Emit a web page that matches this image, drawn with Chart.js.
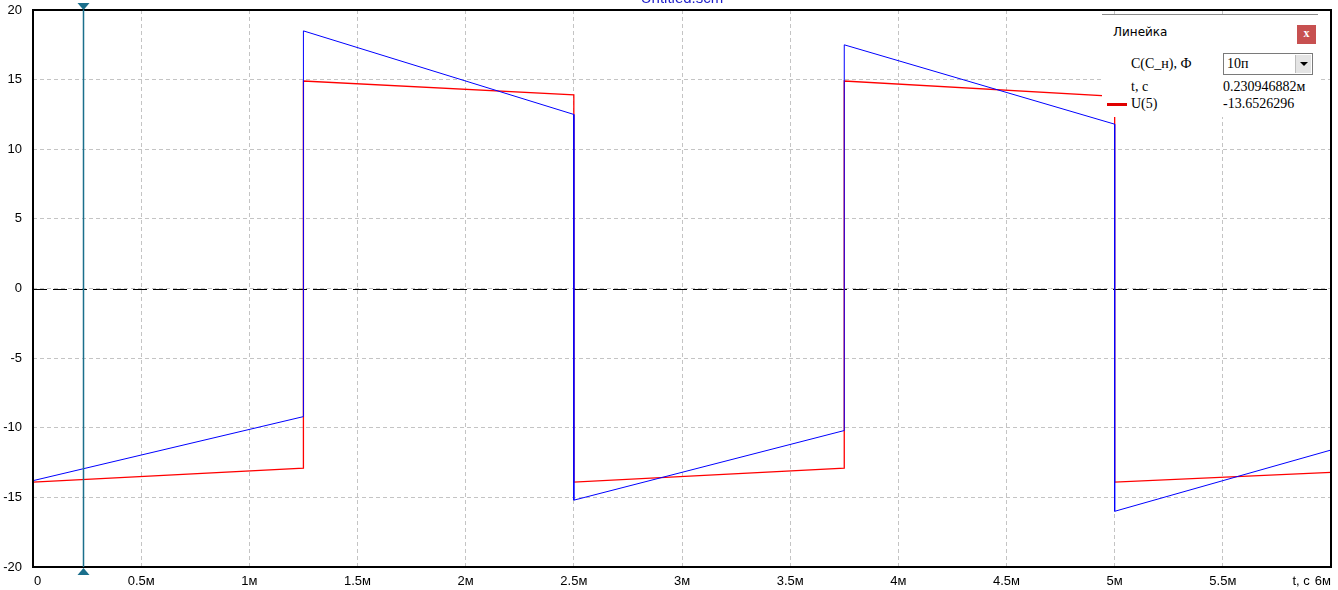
<!DOCTYPE html>
<html lang="ru">
<head>
    <meta charset="UTF-8">
    <title>Untitled.scm</title>
    <script src="https://cdn.jsdelivr.net/npm/chart.js"></script>
    <style>
        body { margin: 0; background: #fff; overflow: hidden; }
        .wrap { position: relative; width: 1338px; height: 590px; }
        #scopeChart { position: absolute; left: 0; top: 0; }
        .title {
            position: absolute; top: -11px; left: 0; width: 1364px; text-align: center;
            font: 15px "Liberation Sans", Arial, sans-serif; color: #1c1cc8;
        }
        .panel {
            position: absolute; left: 1102px; top: 14px; width: 216px; height: 102px;
            background: #fff; border-top: 1px solid #8a8a8a;
            font: 14px "Liberation Serif", "Times New Roman", serif; color: #000;
        }
        .panel div { position: absolute; white-space: nowrap; }
        .ptitle { left: 11px; top: 10px; font: 12px "DejaVu Sans", Tahoma, sans-serif; }
        .close {
            left: 195px; top: 10px; width: 19px; height: 19px; background: #c75050;
            color: #fff; font: bold 12px "Liberation Serif", serif; text-align: center; line-height: 17px;
        }
        .combo {
            left: 121px; top: 38px; width: 88px; height: 20px;
            border: 1px solid #7a7a7a; background: #fff;
        }
        .combo span { position: absolute; left: 3px; top: 2px; }
        .combo i {
            position: absolute; right: 1px; top: 1px; width: 15px; height: 18px;
            background: #e4e4e4; border-left: 1px solid #bcbcbc;
        }
        .combo i:after {
            content: ""; position: absolute; left: 4px; top: 7px;
            border-left: 4px solid transparent; border-right: 4px solid transparent; border-top: 4px solid #000;
        }
        .swatch { left: 5px; top: 88px; width: 20px; height: 3px; background: #e00000; }
    </style>
</head>
<body>
<div class="wrap">
    <canvas id="scopeChart" width="1338" height="590"></canvas>
    <div class="title">Untitled.scm</div>
    <div class="panel">
        <div class="ptitle">Линейка</div>
        <div class="close">x</div>
        <div style="left:29px;top:41px;">C(C_н), Ф</div>
        <div class="combo"><span>10п</span><i></i></div>
        <div style="left:29px;top:64px;">t, c</div>
        <div style="left:121px;top:64px;">0.230946882м</div>
        <div class="swatch"></div>
        <div style="left:29px;top:81px;">U(5)</div>
        <div style="left:121px;top:81px;">-13.6526296</div>
    </div>
</div>

<script>
    // время в мс
    const timeMs = [0, 0, 1.25, 1.25, 2.5, 2.5, 3.75, 3.75, 5, 5, 6];
    // синяя кривая
    const blueVals = [0, -13.8, -9.2, 18.5, 12.5, -15.2, -10.2, 17.5, 11.8, -16.0, -11.6];
    // красная кривая U(5)
    const redVals = [0.3, -13.9, -12.9, 14.9, 13.9, -13.9, -12.9, 14.9, 13.8, -13.9, -13.2];

    const xTickValues = [0, 0.5, 1, 1.5, 2, 2.5, 3, 3.5, 4, 4.5, 5, 5.5, 6];
    const xTickLabels = ['0', '0.5м', '1м', '1.5м', '2м', '2.5м', '3м', '3.5м', '4м', '4.5м', '5м', '5.5м', '6м'];
    const xAxisTitle = 't, c';
    const cursorT = 0.230946882;

    const toPoints = vals => vals.map((v, i) => ({ x: timeMs[i], y: v }));

    const overlay = {
        id: 'overlay',
        beforeDatasetsDraw(chart) {
            const { ctx, chartArea: a, scales: { y } } = chart;
            const y0 = y.getPixelForValue(0);
            ctx.save();
            ctx.strokeStyle = '#000';
            ctx.lineWidth = 1;
            ctx.setLineDash([14, 6]);
            ctx.beginPath();
            ctx.moveTo(a.left, Math.round(y0) + 0.5);
            ctx.lineTo(a.right, Math.round(y0) + 0.5);
            ctx.stroke();
            ctx.restore();
        },
        afterDraw(chart) {
            const { ctx, chartArea: a, scales: { x } } = chart;
            ctx.save();
            // рамка
            ctx.strokeStyle = '#000';
            ctx.lineWidth = 2;
            ctx.strokeRect(a.left, a.top, a.right - a.left, a.bottom - a.top);

            // курсор линейки
            const cx = Math.round(x.getPixelForValue(cursorT)) + 0.5;
            ctx.strokeStyle = '#1b6f8c';
            ctx.fillStyle = '#1b6f8c';
            ctx.lineWidth = 1.5;
            ctx.beginPath();
            ctx.moveTo(cx, a.top);
            ctx.lineTo(cx, a.bottom);
            ctx.stroke();
            ctx.beginPath();
            ctx.moveTo(cx - 6, a.top - 7);
            ctx.lineTo(cx + 6, a.top - 7);
            ctx.lineTo(cx, a.top);
            ctx.fill();
            ctx.beginPath();
            ctx.moveTo(cx - 6, a.bottom + 8);
            ctx.lineTo(cx + 6, a.bottom + 8);
            ctx.lineTo(cx, a.bottom + 1);
            ctx.fill();

            // подписи оси X
            ctx.fillStyle = '#000';
            ctx.font = '13px "Liberation Sans", Arial, sans-serif';
            ctx.textBaseline = 'middle';
            const ly = a.bottom + 14;
            xTickValues.forEach((v, i) => {
                const px = x.getPixelForValue(v);
                if (i === 0) {
                    ctx.textAlign = 'left';
                    ctx.fillText(xTickLabels[i], px + 1, ly);
                } else if (i === xTickValues.length - 1) {
                    ctx.textAlign = 'right';
                    ctx.fillText(xTickLabels[i], px, ly);
                    const w = ctx.measureText(xTickLabels[i]).width;
                    ctx.fillText(xAxisTitle, px - w - 5, ly);
                } else {
                    ctx.textAlign = 'center';
                    ctx.fillText(xTickLabels[i], px, ly);
                }
            });
            ctx.restore();
        }
    };

    const ctx = document.getElementById('scopeChart').getContext('2d');
    const scopeChart = new Chart(ctx, {
        type: 'line',
        data: {
            datasets: [
                {
                    label: 'U(4)',
                    data: toPoints(blueVals),
                    borderColor: '#0000ff',
                    borderWidth: 1,
                    pointRadius: 0,
                    tension: 0,
                    order: 0
                },
                {
                    label: 'U(5)',
                    data: toPoints(redVals),
                    borderColor: '#ff0000',
                    borderWidth: 1.3,
                    pointRadius: 0,
                    tension: 0,
                    order: 1
                }
            ]
        },
        options: {
            responsive: false,
            animation: false,
            events: [],
            layout: { padding: { top: 10, right: 7, left: 0, bottom: 0 } },
            plugins: { legend: { display: false }, tooltip: { enabled: false } },
            scales: {
                x: {
                    type: 'linear',
                    min: 0,
                    max: 6,
                    afterFit: s => { s.height = 23; s.paddingLeft = 0; s.paddingRight = 0; },
                    afterBuildTicks: s => { s.ticks = xTickValues.map(v => ({ value: v })); },
                    ticks: { display: false },
                    grid: { color: '#c4c4c4', lineWidth: 1, drawTicks: false },
                    border: { display: false, dash: [4, 3] }
                },
                y: {
                    min: -20,
                    max: 20,
                    afterFit: s => { s.width = 33; s.paddingTop = 0; s.paddingBottom = 0; },
                    ticks: {
                        stepSize: 5,
                        color: '#000',
                        padding: 11,
                        font: { family: '"Liberation Sans", Arial, sans-serif', size: 13 }
                    },
                    grid: { color: '#c4c4c4', lineWidth: 1, drawTicks: false },
                    border: { display: false, dash: [4, 3] }
                }
            }
        },
        plugins: [overlay]
    });
</script>
</body>
</html>
